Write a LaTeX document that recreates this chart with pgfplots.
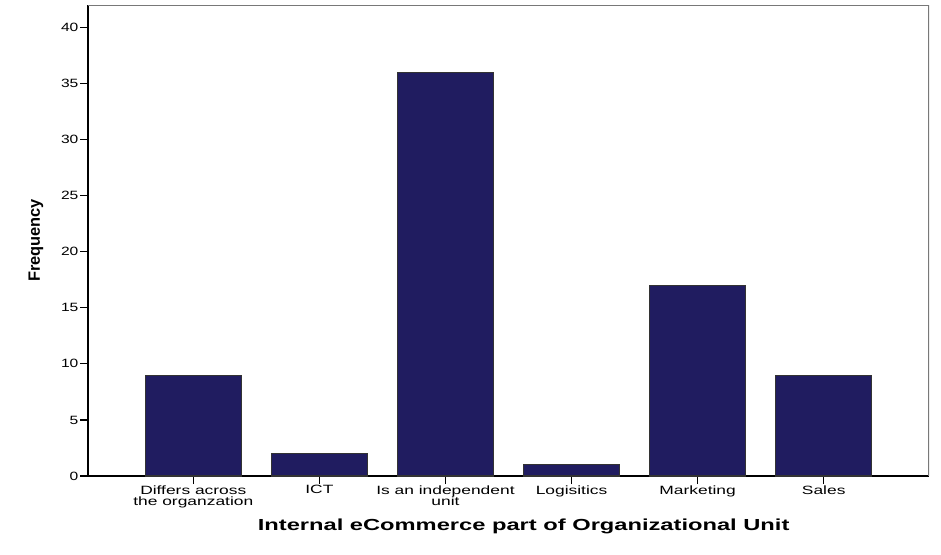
\documentclass[border=0pt]{standalone}
\usepackage{fontspec}
\setmainfont{Liberation Sans}
\usepackage{pgfplots}
\pgfplotsset{compat=1.18}
\usetikzlibrary{calc}
\definecolor{barblue}{RGB}{32,28,96}
\definecolor{framegray}{RGB}{120,120,120}
% tick labels look stretched sideways in the original
\newcommand{\xl}[1]{\scalebox{1.45}[1]{\def\arraystretch{0.78}\begin{tabular}{@{}c@{}}#1\end{tabular}}}
\begin{document}
\begin{tikzpicture}
\begin{axis}[
  scale only axis, width=630.75pt, height=353.25pt,
  xmin=-0.835, xmax=5.835, ymin=0, ymax=42,
  axis x line*=bottom, axis y line*=left,
  axis line style={-, line width=1pt, black},
  tick align=outside, major tick length=6pt,
  tick style={black, line width=0.9pt},
  xtick={0,...,5},
  xticklabels={\xl{Differs across\\the organzation},\xl{ICT},\xl{Is an independent\\unit},\xl{Logisitics},\xl{Marketing},\xl{Sales}},
  xticklabel style={font=\fontsize{9}{9}\selectfont, anchor=north, inner sep=1pt},
  ytick={0,5,...,40},
  /pgf/number format/assume math mode=true,
  yticklabel={\scalebox{1.3}[1]{\pgfmathprintnumber{\tick}}},
  yticklabel style={font=\fontsize{9}{9}\selectfont, inner sep=1pt},
  xlabel={\scalebox{1.48}[1]{\bfseries Internal eCommerce part of Organizational Unit}},
  xlabel style={font=\fontsize{12}{12}\selectfont, at={(axis description cs:0.518,-0.106)}, anchor=center},
  ylabel={\bfseries Frequency},
  ylabel style={font=\fontsize{12.3}{12}\selectfont, at={(axis description cs:-0.0618,0.5)}, anchor=center},
]
\addplot[ybar, bar width=0.76, fill=barblue, draw=black!80, line width=0.8pt]
  coordinates {(0,9) (1,2) (2,36) (3,1) (4,17) (5,9)};
\draw[framegray, line width=1pt] (rel axis cs:0,1) -- (rel axis cs:1,1) -- (rel axis cs:1,0);
\end{axis}
\pgfresetboundingbox
\path[use as bounding box] ($(current axis.south west)+(-66pt,-58.5pt)$) rectangle ($(current axis.south west)+(639.75pt,357pt)$);
\end{tikzpicture}
\end{document}
